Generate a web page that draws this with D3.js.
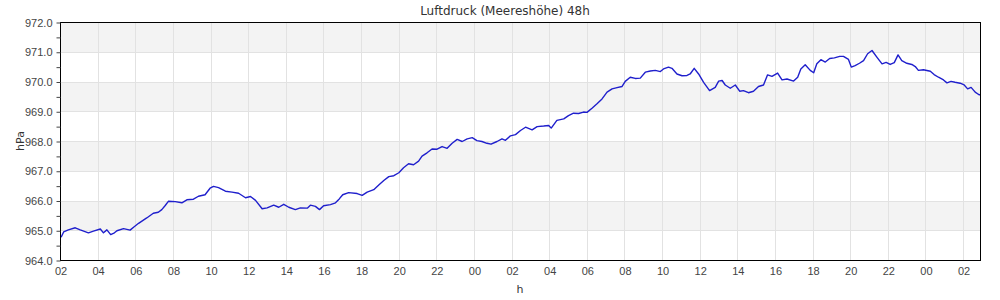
<!DOCTYPE html>
<html lang="de">
  <head>
    <meta charset="UTF-8" />
    <title>Luftdruck (Meereshöhe) 48h</title>
    <script src="https://d3js.org/d3.v7.min.js"></script>
    <style>
      body {
        margin: 0;
        background: #fff;
        font-family: "DejaVu Sans", sans-serif;
      }
      .tick text {
        fill: #444;
        font-size: 11px;
      }
      .title {
        font-size: 12px;
        fill: #333;
      }
      .axis-label {
        font-size: 11px;
        fill: #333;
      }
    </style>
  </head>
  <body>
    <div id="chart"></div>
    <script>
      // minutes since 02:00 of day one
      const minutes = [
        2, 10, 25, 47, 63, 89, 105, 127, 137, 148, 160, 172, 180, 201, 222,
        233, 249, 275, 296, 312, 323, 334, 344, 366, 387, 403, 424, 440, 461,
        477, 488, 504, 526, 547, 568, 590, 606, 622, 643, 659, 680, 696, 712,
        728, 749, 765, 787, 797, 813, 826, 839, 861, 877, 889, 900, 919, 946,
        962, 978, 999, 1015, 1031, 1047, 1063, 1079, 1094, 1110, 1126, 1142,
        1153, 1169, 1185, 1201, 1217, 1233, 1249, 1265, 1281, 1297, 1313,
        1328, 1344, 1360, 1373, 1392, 1408, 1419, 1435, 1451, 1467, 1483,
        1504, 1520, 1541, 1557, 1565, 1583, 1605, 1620, 1636, 1652, 1668,
        1679, 1695, 1711, 1727, 1743, 1759, 1775, 1791, 1801, 1817, 1833,
        1849, 1865, 1881, 1897, 1913, 1923, 1939, 1950, 1966, 1982, 1998,
        2008, 2021, 2035, 2051, 2070, 2088, 2099, 2110, 2120, 2136, 2152,
        2166, 2178, 2194, 2210, 2226, 2242, 2255, 2269, 2287, 2301, 2317,
        2338, 2351, 2361, 2375, 2391, 2402, 2412, 2425, 2439, 2453, 2468,
        2485, 2497, 2513, 2522, 2534, 2548, 2561, 2574, 2588, 2604, 2620,
        2633, 2646, 2659, 2671, 2683, 2699, 2715, 2726, 2736, 2752, 2774,
        2786, 2800, 2816, 2827, 2840, 2853, 2869, 2882, 2893, 2904, 2917,
        2928, 2935,
      ];

      // hPa
      const pressure = [
        964.78, 964.96, 965.03, 965.1, 965.03, 964.93, 964.99, 965.06, 964.93,
        965.03, 964.87, 964.93, 965.0, 965.07, 965.02, 965.12, 965.25, 965.43,
        965.59, 965.62, 965.71, 965.85, 965.99, 965.98, 965.94, 966.04, 966.06,
        966.16, 966.21, 966.43, 966.49, 966.45, 966.33, 966.3, 966.26, 966.11,
        966.15, 966.02, 965.74, 965.77, 965.86, 965.79, 965.89, 965.79, 965.71,
        965.77, 965.76, 965.86, 965.82, 965.71, 965.84, 965.88, 965.94, 966.07,
        966.21, 966.28, 966.25, 966.19, 966.3, 966.38, 966.54, 966.69, 966.82,
        966.85, 966.95, 967.12, 967.25, 967.22, 967.34, 967.51, 967.62, 967.75,
        967.74, 967.83, 967.77, 967.94, 968.07, 968.0, 968.09, 968.13, 968.03,
        968.0, 967.94, 967.91, 968.0, 968.09, 968.04, 968.19, 968.23, 968.37,
        968.48, 968.39, 968.5, 968.52, 968.54, 968.45, 968.71, 968.76, 968.87,
        968.95, 968.94, 968.99, 968.98, 969.12, 969.27, 969.43, 969.66, 969.77,
        969.81, 969.85, 970.02, 970.16, 970.12, 970.13, 970.33, 970.37, 970.39,
        970.35, 970.44, 970.5, 970.46, 970.27, 970.21, 970.22, 970.27, 970.46,
        970.27, 969.99, 969.71, 969.82, 970.03, 970.05, 969.9, 969.79, 969.9,
        969.69, 969.71, 969.64, 969.69, 969.85, 969.9, 970.24, 970.19, 970.3,
        970.07, 970.1, 970.03, 970.16, 970.44, 970.58, 970.39, 970.31, 970.61,
        970.75, 970.67, 970.79, 970.81, 970.86, 970.86, 970.76, 970.5, 970.55,
        970.63, 970.72, 970.95, 971.06, 970.83, 970.61, 970.66, 970.59, 970.65,
        970.91, 970.72, 970.63, 970.59, 970.52, 970.39, 970.41, 970.36, 970.25,
        970.16, 970.07, 969.97, 970.02, 969.99, 969.96, 969.9, 969.77, 969.82,
        969.66, 969.58, 969.56,
      ];

      const yDomain = [964, 972];
      const spanMinutes = 2934;
      const title = "Luftdruck (Meereshöhe) 48h";

      const margin = { top: 22, right: 20, bottom: 40, left: 60 },
        width = 1000 - margin.left - margin.right,
        height = 300 - margin.top - margin.bottom;

      const start = new Date(2024, 0, 1, 2, 0);
      const data = minutes.map((m, i) => ({
        t: new Date(start.getTime() + m * 60000),
        v: pressure[i],
      }));

      const root = d3
        .select("#chart")
        .append("svg")
        .attr("width", 1000)
        .attr("height", 300);

      const svg = root
        .append("g")
        .attr("transform", `translate(${margin.left + 0.5}, ${margin.top + 0.5})`);

      const x = d3
        .scaleTime()
        .domain([start, new Date(start.getTime() + spanMinutes * 60000)])
        .range([0, width]);

      const y = d3.scaleLinear().domain(yDomain).range([height, 0]);

      const xTicks = x.ticks(d3.timeHour.every(2));
      const yTicks = d3.range(yDomain[0], yDomain[1] + 1, 1);

      // alternating bands
      svg
        .selectAll(".band")
        .data(yTicks.slice(0, -1).filter((d) => (d - yDomain[0]) % 2 === 1))
        .enter()
        .append("rect")
        .attr("x", 0)
        .attr("width", width)
        .attr("y", (d) => y(d + 1))
        .attr("height", (d) => y(d) - y(d + 1))
        .attr("fill", "#f3f3f3");

      // grid
      svg
        .selectAll(".hgrid")
        .data(yTicks)
        .enter()
        .append("line")
        .attr("x1", 0)
        .attr("x2", width)
        .attr("y1", (d) => Math.round(y(d)))
        .attr("y2", (d) => Math.round(y(d)))
        .attr("stroke", "#e2e2e2");

      svg
        .selectAll(".vgrid")
        .data(xTicks)
        .enter()
        .append("line")
        .attr("x1", (d) => Math.round(x(d)))
        .attr("x2", (d) => Math.round(x(d)))
        .attr("y1", 0)
        .attr("y2", height)
        .attr("stroke", "#e2e2e2");

      // line
      const line = d3
        .line()
        .x((d) => x(d.t))
        .y((d) => y(d.v));

      svg
        .append("path")
        .datum(data)
        .attr("fill", "none")
        .attr("stroke", "#1f1fcc")
        .attr("stroke-width", 1.4)
        .attr("stroke-linejoin", "round")
        .attr("d", line);

      // frame
      svg
        .append("rect")
        .attr("width", width)
        .attr("height", height)
        .attr("fill", "none")
        .attr("stroke", "#000");

      // y axis with minor ticks
      svg
        .append("g")
        .call(
          d3
            .axisLeft(y)
            .tickValues(d3.range(yDomain[0], yDomain[1] + 0.01, 0.5))
            .tickSize(4)
            .tickPadding(4)
            .tickFormat((d) => (d % 1 === 0 ? d3.format(".1f")(d) : ""))
        )
        .call((g) => g.select(".domain").remove())
        .call((g) => g.selectAll(".tick line").attr("stroke", "#444"));

      // x axis
      svg
        .append("g")
        .attr("transform", `translate(0, ${height})`)
        .call(
          d3
            .axisBottom(x)
            .tickValues(xTicks)
            .tickSize(0)
            .tickPadding(7)
            .tickFormat(d3.timeFormat("%H"))
        )
        .call((g) => g.select(".domain").remove());

      root
        .append("text")
        .attr("class", "title")
        .attr("x", 505)
        .attr("y", 15)
        .attr("text-anchor", "middle")
        .text(title);

      root
        .append("text")
        .attr("class", "axis-label")
        .attr("transform", `translate(24, ${margin.top + height / 2}) rotate(-90)`)
        .attr("text-anchor", "middle")
        .text("hPa");

      root
        .append("text")
        .attr("class", "axis-label")
        .attr("x", margin.left + width / 2)
        .attr("y", 293)
        .attr("text-anchor", "middle")
        .text("h");
    </script>
  </body>
</html>
